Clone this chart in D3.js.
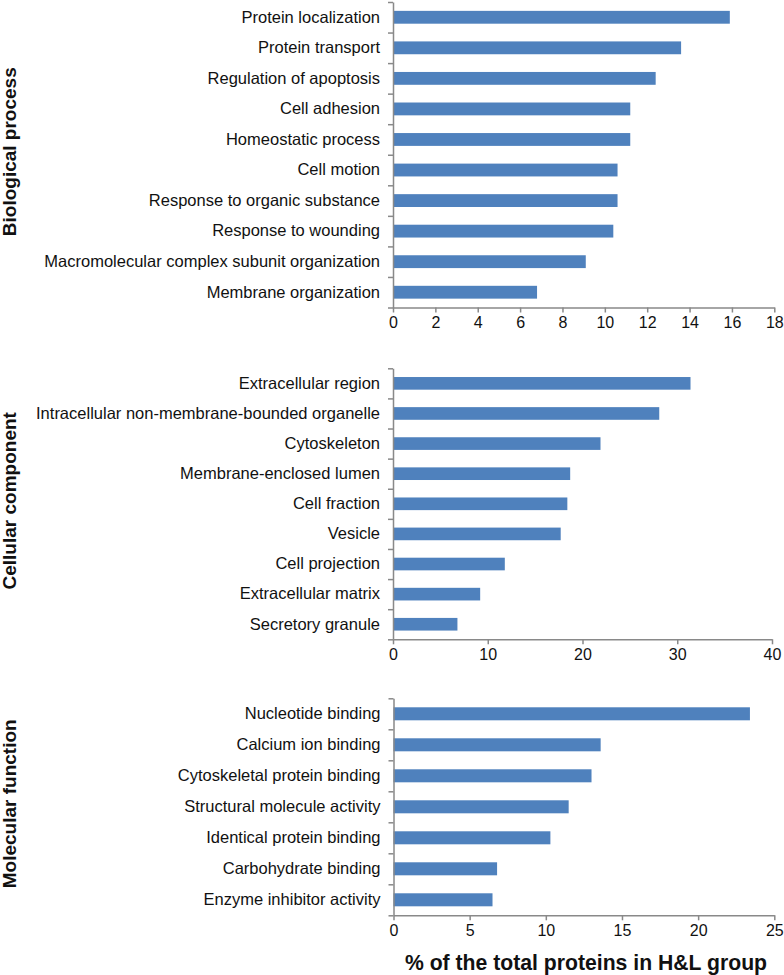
<!DOCTYPE html>
<html><head><meta charset="utf-8">
<script src="https://cdn.jsdelivr.net/npm/d3@7"></script>
<style>
html,body{margin:0;padding:0;background:#fff;}
svg{display:block;}
</style></head>
<body>
<svg id="chart" width="784" height="975"></svg>
<script>
// ---- data ----
const bioCategories = ["Protein localization","Protein transport","Regulation of apoptosis","Cell adhesion","Homeostatic process","Cell motion","Response to organic substance","Response to wounding","Macromolecular complex subunit organization","Membrane organization"];
const bioValues = [15.9,13.6,12.4,11.2,11.2,10.6,10.6,10.4,9.1,6.8];
const bioTicks = [0,2,4,6,8,10,12,14,16,18];

const ccCategories = ["Extracellular region","Intracellular non-membrane-bounded organelle","Cytoskeleton","Membrane-enclosed lumen","Cell fraction","Vesicle","Cell projection","Extracellular matrix","Secretory granule"];
const ccValues = [31.4,28.1,21.9,18.7,18.4,17.7,11.8,9.2,6.8];
const ccTicks = [0,10,20,30,40];

const mfCategories = ["Nucleotide binding","Calcium ion binding","Cytoskeletal protein binding","Structural molecule activity","Identical protein binding","Carbohydrate binding","Enzyme inhibitor activity"];
const mfValues = [23.4,13.6,13.0,11.5,10.3,6.8,6.5];
const mfTicks = [0,5,10,15,20,25];

const panelTitles = ["Biological process","Cellular component","Molecular function"];
const xAxisTitle = "% of the total proteins in H&L group";

// ---- layout ----
const panels = [
  {cats: bioCategories, vals: bioValues, ticks: bioTicks, x0: 393, x1: 774.3, y0: 2, y1: 307.5, title: panelTitles[0]},
  {cats: ccCategories, vals: ccValues, ticks: ccTicks, x0: 393, x1: 772, y0: 368.3, y1: 639.3, title: panelTitles[1]},
  {cats: mfCategories, vals: mfValues, ticks: mfTicks, x0: 393.5, x1: 774.3, y0: 698.3, y1: 915.3, title: panelTitles[2]}
];

const svg = d3.select("#chart");
const axisColor = "#898989";
const barColor = "#4f81bd";
const font = "'Liberation Sans', Arial, sans-serif";

panels.forEach(p => {
  const g = svg.append("g");
  const x = d3.scaleLinear().domain([p.ticks[0], p.ticks[p.ticks.length-1]]).range([p.x0, p.x1]);
  const y = d3.scaleBand().domain(p.cats).range([p.y0, p.y1]).paddingInner(0.58).paddingOuter(0.29);
  const yb = d3.scaleLinear().domain([0, p.cats.length]).range([p.y0, p.y1]);

  g.selectAll("rect.bar").data(p.cats).enter().append("rect")
    .attr("class","bar")
    .attr("x", x(0))
    .attr("y", d => y(d))
    .attr("width", (d,i) => x(p.vals[i]) - x(0))
    .attr("height", y.bandwidth())
    .attr("fill", barColor);

  // boundary ticks on y axis
  const yAxisG = g.append("g").attr("transform", `translate(${x(0)},0)`)
    .call(d3.axisLeft(yb).tickValues(d3.range(0, p.cats.length+1)).tickSize(5).tickSizeOuter(0).tickFormat(""));
  yAxisG.select(".domain").attr("stroke", axisColor).attr("stroke-width", 1.5);
  yAxisG.selectAll(".tick line").attr("stroke", axisColor).attr("stroke-width", 1.5);

  // category labels
  const labG = g.append("g").attr("transform", `translate(${x(0)},0)`)
    .call(d3.axisLeft(y).tickSize(0).tickPadding(13));
  labG.select(".domain").remove();
  labG.selectAll("text").attr("font-family", font).attr("font-size", 16.5).attr("fill", "#111");

  // x axis
  const xAxisG = g.append("g").attr("transform", `translate(0,${p.y1})`)
    .call(d3.axisBottom(x).tickValues(p.ticks).tickSize(5).tickSizeOuter(0).tickPadding(4));
  xAxisG.select(".domain").attr("stroke", axisColor).attr("stroke-width", 1.5);
  xAxisG.selectAll(".tick line").attr("stroke", axisColor).attr("stroke-width", 1.5);
  xAxisG.selectAll("text").attr("font-family", font).attr("font-size", 16).attr("fill", "#111");

  // panel title
  const cy = (p.y0 + p.y1) / 2 - 3;
  svg.append("text")
    .attr("transform", `translate(16,${cy}) rotate(-90)`)
    .attr("text-anchor", "middle")
    .attr("font-family", font).attr("font-weight", "bold").attr("font-size", 19)
    .attr("fill", "#111")
    .text(p.title);
});

svg.append("text")
  .attr("x", 586).attr("y", 970)
  .attr("text-anchor", "middle")
  .attr("font-family", font).attr("font-weight", "bold").attr("font-size", 21.2)
  .attr("fill", "#111")
  .text(xAxisTitle);
</script>
</body></html>
